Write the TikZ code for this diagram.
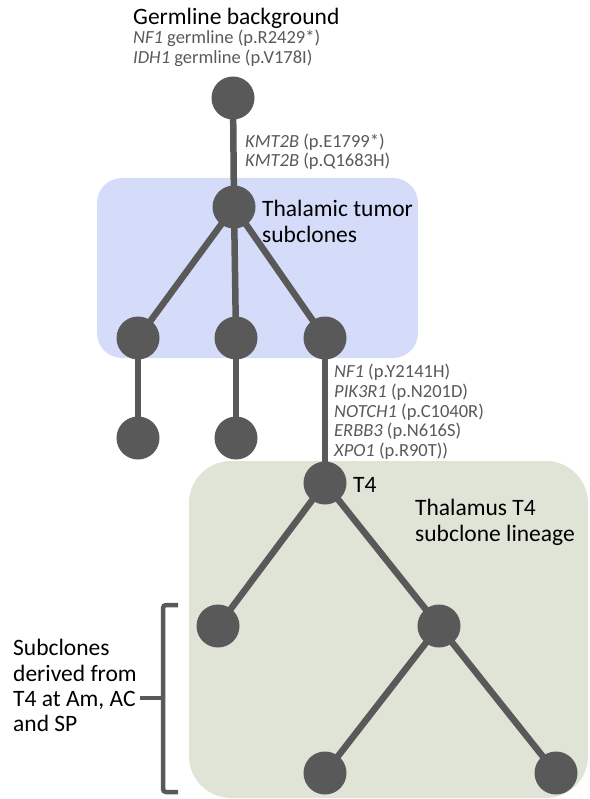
\documentclass[tikz,border=0pt]{standalone}
\usepackage{fontspec}
\setmainfont{Carlito}
\definecolor{dk}{HTML}{595959}
\definecolor{bluebg}{HTML}{D5DCFA}
\definecolor{greenbg}{HTML}{DFE4D6}
\begin{document}
\begin{tikzpicture}[x=1pt,y=-1pt,
  dot/.style={circle,fill=dk,minimum size=43pt,inner sep=0pt},
  link/.style={draw=dk,line width=6.5pt},
  big/.style={anchor=base west,inner sep=0pt,font=\fontsize{23.5}{26}\selectfont,text=black},
  small/.style={anchor=base west,inner sep=0pt,font=\fontsize{18.5}{20}\selectfont,text=dk},
  brace/.style={draw=dk,line width=4.5pt,rounded corners=3pt}]
\useasboundingbox (0,0) rectangle (589,799);
% background panels
\fill[bluebg,rounded corners=25pt] (97,178) rectangle (418,358);
\fill[greenbg,rounded corners=42pt] (189,461) rectangle (588,798);
% tree nodes
\node[dot] (root) at (233,98) {};
\node[dot] (thal) at (234,207) {};
\node[dot] (c1) at (138,338) {};
\node[dot] (c2) at (236,338) {};
\node[dot] (c3) at (325,338) {};
\node[dot] (l1) at (138,438) {};
\node[dot] (l2) at (236,438) {};
\node[dot] (t4) at (325,483) {};
\node[dot] (t4a) at (218,626) {};
\node[dot] (t4b) at (439,626) {};
\node[dot] (t4b1) at (325,773) {};
\node[dot] (t4b2) at (556,773) {};
% connectors
\draw[link] (root.center) -- (thal.center);
\draw[link] (thal.center) -- (c1.center);
\draw[link] (thal.center) -- (c2.center);
\draw[link] (thal.center) -- (c3.center);
\draw[link] (c1.center) -- (l1.center);
\draw[link] (c2.center) -- (l2.center);
\draw[link] (c3.center) -- (t4.center);
\draw[link] (t4.center) -- (t4a.center);
\draw[link] (t4.center) -- (t4b.center);
\draw[link] (t4b.center) -- (t4b1.center);
\draw[link] (t4b.center) -- (t4b2.center);
% texts
\node[big] (g0) at (133,25) {Germline background};
\node[small] (g1) at (133,44) {\textit{NF1} germline (p.R2429*)};
\node[small] (g2) at (133,64) {\textit{IDH1} germline (p.V178I)};
\node[small] (k1) at (245,148) {\textit{KMT2B} (p.E1799*)};
\node[small] (k2) at (245,167) {\textit{KMT2B} (p.Q1683H)};
\node[big] (tt1) at (262,217) {Thalamic tumor};
\node[big] (tt2) at (262,243) {subclones};
\node[small] (m1) at (334,377) {\textit{NF1} (p.Y2141H)};
\node[small] (m2) at (334,397) {\textit{PIK3R1} (p.N201D)};
\node[small] (m3) at (334,417) {\textit{NOTCH1} (p.C1040R)};
\node[small] (m4) at (334,436) {\textit{ERBB3} (p.N616S)};
\node[small] (m5) at (334,456) {\textit{XPO1} (p.R90T))};
\node[big] (t4l) at (353,492) {T4};
\node[big] (tl1) at (415,515) {Thalamus T4};
\node[big] (tl2) at (415,541) {subclone lineage};
\node[big] (s1) at (13,655) {Subclones};
\node[big] (s2) at (13,681) {derived from};
\node[big] (s3) at (13,706) {T4 at Am, AC};
\node[big] (s4) at (13,731) {and SP};
% bracket
\coordinate (bt) at (178,605);
\coordinate (btc) at (163,605);
\coordinate (bbc) at (163,792);
\coordinate (bb) at (178,792);
\coordinate (bm) at (163,698);
\coordinate (bmt) at (140,698);
\draw[brace] (bt) -- (btc) -- (bbc) -- (bb);
\draw[draw=dk,line width=4.5pt] (bmt) -- (bm);
\end{tikzpicture}
\end{document}
